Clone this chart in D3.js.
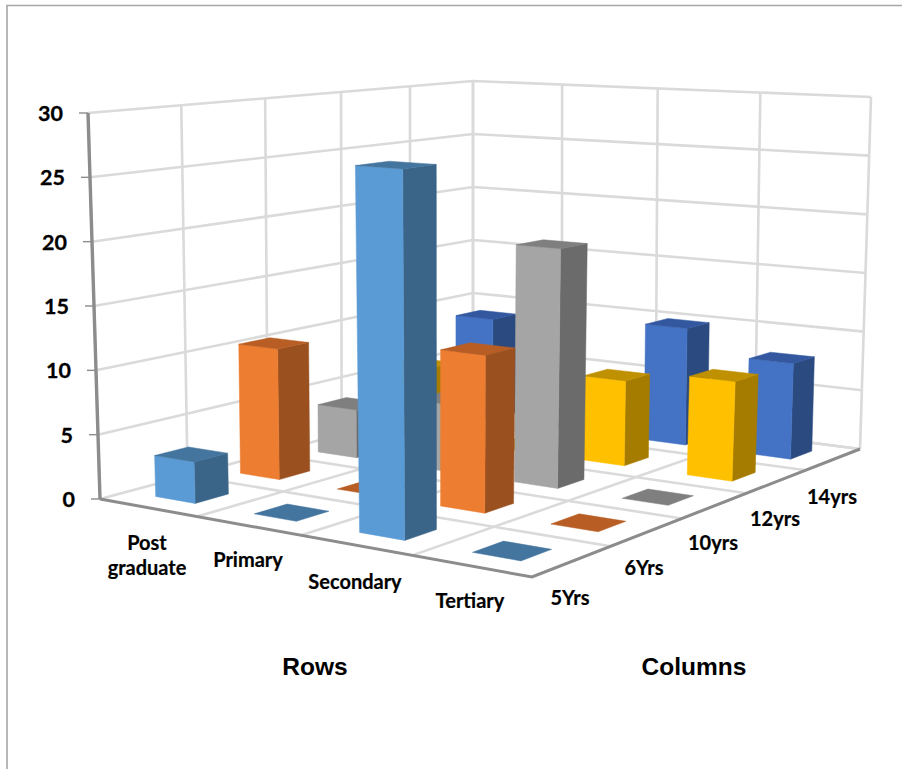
<!DOCTYPE html>
<html>
<head>
<meta charset="utf-8">
<script src="https://cdn.jsdelivr.net/npm/d3@7"></script>
<style>
html,body{margin:0;padding:0;background:#fff;}
svg{display:block;}
</style>
</head>
<body>
<div id="chart"></div>
<script>
// Chart content
const rows = ["Post graduate", "Primary", "Secondary", "Tertiary"];
const columns = ["5Yrs", "6Yrs", "10yrs", "12yrs", "14yrs"];
const valuesPostGraduate = [3.2, 10.5, 4, 6, 9];
const valuesPrimary = [0, 0, 5.5, 0, 0];
const valuesSecondary = [27, 12, 19, 7, 10];
const valuesTertiary = [0, 0, 0, 8, 8];
const matrix = [valuesPostGraduate, valuesPrimary, valuesSecondary, valuesTertiary];
const valueTicks = [0, 5, 10, 15, 20, 25, 30];
const frontColors = ["#5B9BD5", "#ED7D31", "#A5A5A5", "#FFC000", "#4472C4"];
const sideColors = ["#3A6488", "#9A501F", "#6B6B6B", "#A67C00", "#2B4A80"];
const topColors = ["#44759F", "#B85E24", "#7F7F7F", "#BF9000", "#3358A0"];
const rowTitle = "Rows";
const columnTitle = "Columns";

// Frame of the projected box, in page pixels
const width = 902, height = 769;
const floorQuad = [[100, 499], [532, 577], [860, 449], [473, 399]];
const ceilingQuad = [[88, 113], [540, 141], [871, 97], [473, 81]];

function quadMap(q) {
  const [[x0, y0], [x1, y1], [x2, y2], [x3, y3]] = q;
  const dx1 = x1 - x2, dx2 = x3 - x2, dx3 = x0 - x1 + x2 - x3;
  const dy1 = y1 - y2, dy2 = y3 - y2, dy3 = y0 - y1 + y2 - y3;
  const det = dx1 * dy2 - dx2 * dy1;
  const g = (dx3 * dy2 - dx2 * dy3) / det;
  const h = (dx1 * dy3 - dx3 * dy1) / det;
  const a = x1 - x0 + g * x1, b = x3 - x0 + h * x3;
  const d = y1 - y0 + g * y1, e = y3 - y0 + h * y3;
  return (u, v) => {
    const w = g * u + h * v + 1;
    return [(a * u + b * v + x0) / w, (d * u + e * v + y0) / w];
  };
}
const floorMap = quadMap(floorQuad);
const ceilingMap = quadMap(ceilingQuad);

const valueScale = d3.scaleLinear().domain([0, 30]).range([0, 1]);
const rowScale = d3.scaleBand().domain(rows).range([0, 1]).paddingInner(0.592).paddingOuter(0.296);
const columnScale = d3.scaleBand().domain(columns).range([0, 1]).paddingInner(0.615).paddingOuter(0.3075);
const rowEdges = d3.range(rows.length + 1).map(i => i / rows.length);
const columnEdges = d3.range(columns.length + 1).map(i => i / columns.length);

// Page position of a point given along the row axis, the column axis and in value units
function project(u, v, value) {
  const f = floorMap(u, v), c = ceilingMap(u, v), t = valueScale(value);
  return [f[0] + (c[0] - f[0]) * t, f[1] + (c[1] - f[1]) * t];
}

const svg = d3.select("#chart").append("svg").attr("width", width).attr("height", height);
const outline = d3.line().curve(d3.curveLinearClosed);
const polyline = d3.line();

svg.append("path")
  .attr("d", polyline([[7, height], [7, 5.5], [width, 5.5]]))
  .attr("fill", "none").attr("stroke", "#A6A6A6").attr("stroke-width", 1.6);

// Gridlines on the two walls and the floor
const grid = svg.append("g").attr("fill", "none").attr("stroke", "#DADADA").attr("stroke-width", 2.6);
const addGrid = pts => grid.append("path").attr("d", polyline(pts));
valueTicks.forEach(t => {
  addGrid([project(0, 0, t), project(0, 1, t), project(1, 1, t)]);
});
columnEdges.forEach(v => {
  addGrid([project(0, v, 0), project(0, v, 30)]);
  if (v > 0) addGrid([project(0, v, 0), project(1, v, 0)]);
});
rowEdges.forEach(u => {
  addGrid([project(u, 1, 0), project(u, 1, 30)]);
  if (u > 0) addGrid([project(u, 0, 0), project(u, 1, 0)]);
});

// Axis lines and value ticks
const axes = svg.append("g").attr("fill", "none").attr("stroke", "#8C8C8C");
axes.append("path").attr("stroke-width", 3.4).attr("d", polyline([project(0, 0, 30), project(0, 0, 0)]));
axes.append("path").attr("stroke-width", 3).attr("d", polyline([project(0, 0, 0), project(1, 0, 0), project(1, 1, 0)]));
valueTicks.forEach(t => {
  const p = project(0, 0, t);
  axes.append("path").attr("stroke-width", 1.4).attr("d", polyline([[p[0] - 9, p[1]], p]));
});

// Bars, painted from the far corner towards the viewer
const bars = svg.append("g");
rows.forEach((row, r) => {
  [...columns].reverse().forEach(col => {
    const c = columns.indexOf(col);
    const value = matrix[r][c];
    const u0 = rowScale(row), u1 = u0 + rowScale.bandwidth();
    const v0 = columnScale(col), v1 = v0 + columnScale.bandwidth();
    const g = bars.append("g");
    if (value > 0) {
      g.append("path").attr("fill", sideColors[c]).attr("stroke", sideColors[c]).attr("stroke-width", 0.5)
        .attr("d", outline([project(u1, v0, 0), project(u1, v1, 0), project(u1, v1, value), project(u1, v0, value)]));
      g.append("path").attr("fill", frontColors[c]).attr("stroke", frontColors[c]).attr("stroke-width", 0.5)
        .attr("d", outline([project(u0, v0, 0), project(u1, v0, 0), project(u1, v0, value), project(u0, v0, value)]));
    }
    g.append("path").attr("fill", topColors[c]).attr("stroke", topColors[c]).attr("stroke-width", 0.5)
      .attr("d", outline([project(u0, v0, value), project(u1, v0, value), project(u1, v1, value), project(u0, v1, value)]));
  });
});

// Labels
const labelFont = "Lato, Carlito, sans-serif";
const text = (x, y, s, size, anchor, family) => svg.append("text")
  .attr("x", x).attr("y", y).attr("text-anchor", anchor).attr("dominant-baseline", "central")
  .attr("font-family", family).attr("font-weight", 700).attr("font-size", size).attr("fill", "#000").text(s);

valueTicks.forEach(t => {
  const p = project(0, 0, t);
  text(p[0] - 25, p[1], t, 21.5, "end", labelFont).attr("stroke", "#000").attr("stroke-width", 0.3);
});

const rowLabelLines = [["Post", "graduate"], ["Primary"], ["Secondary"], ["Tertiary"]];
const rowLabelPos = [[147, 541.5, 567], [248, 559], [355, 581], [470, 600]];
rowLabelLines.forEach((lines, i) => lines.forEach((s, j) =>
  text(rowLabelPos[i][0], rowLabelPos[i][j + 1], s, 20, "middle", labelFont).attr("stroke", "#000").attr("stroke-width", 0.2)));
const columnLabelPos = [[570, 597], [644, 567], [713, 542], [775, 518], [832, 496]];
columns.forEach((s, i) => text(columnLabelPos[i][0], columnLabelPos[i][1], s, 20, "middle", labelFont).attr("stroke", "#000").attr("stroke-width", 0.2));

text(315, 666, rowTitle, 24.5, "middle", "'Liberation Sans', Arial, sans-serif");
text(694, 666, columnTitle, 24.5, "middle", "'Liberation Sans', Arial, sans-serif");
</script>
</body>
</html>
